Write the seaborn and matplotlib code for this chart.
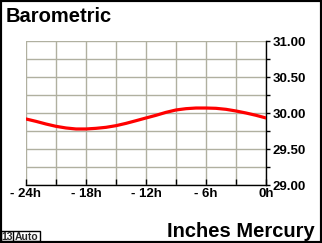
import numpy as np
import pandas as pd
import matplotlib
matplotlib.use("Agg")
import matplotlib.pyplot as plt
from matplotlib.patches import Rectangle
import seaborn as sns

# ---- data ----
hours = list(range(-24, 1))
pressure = [29.917, 29.884, 29.847, 29.815, 29.792, 29.778, 29.778, 29.787,
            29.801, 29.824, 29.856, 29.893, 29.931, 29.968, 30.009, 30.042,
            30.060, 30.069, 30.069, 30.065, 30.051, 30.028, 30.000, 29.968,
            29.931]
x_ticks = list(range(-24, 1, 3))
x_labels = ["- 24h", "", "- 18h", "", "- 12h", "", "- 6h", "", "0h"]
y_ticks = [29.00, 29.25, 29.50, 29.75, 30.00, 30.25, 30.50, 30.75, 31.00]
y_labels = ["29.00", "", "29.50", "", "30.00", "", "30.50", "", "31.00"]
title = "Barometric"
unit_label = "Inches Mercury"

df = pd.DataFrame({"hour": hours, "pressure": pressure})

sns.set_style("white")
FAM = ["Liberation Sans", "DejaVu Sans"]
plt.rcParams["font.family"] = FAM

W, H = 322, 243
fig = plt.figure(figsize=(W / 100, H / 100), dpi=100)
fig.patch.set_facecolor("white")

def fx(px):
    return px / W

def fy(py):
    return 1 - py / H

ax = fig.add_axes([fx(26), fy(185), fx(266) - fx(26), (185 - 41) / H])
sns.lineplot(data=df, x="hour", y="pressure", ax=ax, color="#ff0000",
             linewidth=2.3, zorder=3)

ax.set_xlim(-24, 0)
ax.set_ylim(29.0, 31.0)
ax.set_xlabel("")
ax.set_ylabel("")
ax.set_xticks(x_ticks)
ax.set_xticklabels(x_labels)
ax.set_yticks(y_ticks)
ax.set_yticklabels(y_labels)
ax.grid(True, color="#b0b0a0", linewidth=1.0, zorder=0)
ax.set_axisbelow(True)

for s in ["left", "top"]:
    ax.spines[s].set_visible(False)
for s in ["right", "bottom"]:
    ax.spines[s].set_visible(True)
    ax.spines[s].set_color("black")
    ax.spines[s].set_linewidth(1.0)

ax.yaxis.tick_right()
ax.tick_params(axis="y", which="both", left=False, right=True, direction="out",
               length=3, width=1, color="black", pad=1.5, labelsize=9.5,
               labelcolor="black")
ax.tick_params(axis="x", which="both", bottom=True, direction="in",
               length=4, width=1, color="black", pad=2.5, labelsize=9.5,
               labelcolor="black")
for lab in ax.get_xticklabels() + ax.get_yticklabels():
    lab.set_fontweight("bold")
    lab.set_family(FAM)

fig.text(fx(5.5), fy(22), title, ha="left", va="baseline", fontsize=14.5,
         fontweight="bold", family=FAM, color="black")
fig.text(fx(314.5), fy(236.5), unit_label, ha="right", va="baseline",
         fontsize=14.5, fontweight="bold", family=FAM, color="black")

# small status boxes bottom-left
fig.add_artist(Rectangle((fx(1), fy(241)), fx(40) - fx(1), (241 - 230.5) / H,
                         transform=fig.transFigure, fill=False,
                         edgecolor="black", linewidth=1.0))
fig.add_artist(Rectangle((fx(13.3), fy(241)), 0, (241 - 230.5) / H,
                         transform=fig.transFigure, fill=False,
                         edgecolor="black", linewidth=1.0))
fig.text(fx(7.5), fy(239.5), "13", ha="center", va="baseline", fontsize=7.5,
         fontweight="bold", family=FAM)
fig.text(fx(26.5), fy(239.5), "Auto", ha="center", va="baseline", fontsize=7.5,
         fontweight="bold", family=FAM)

# figure border
fig.add_artist(Rectangle((0, 0), 1, 1, transform=fig.transFigure, fill=False,
                         edgecolor="black", linewidth=3.0))

fig.savefig("out.png", dpi=100)
